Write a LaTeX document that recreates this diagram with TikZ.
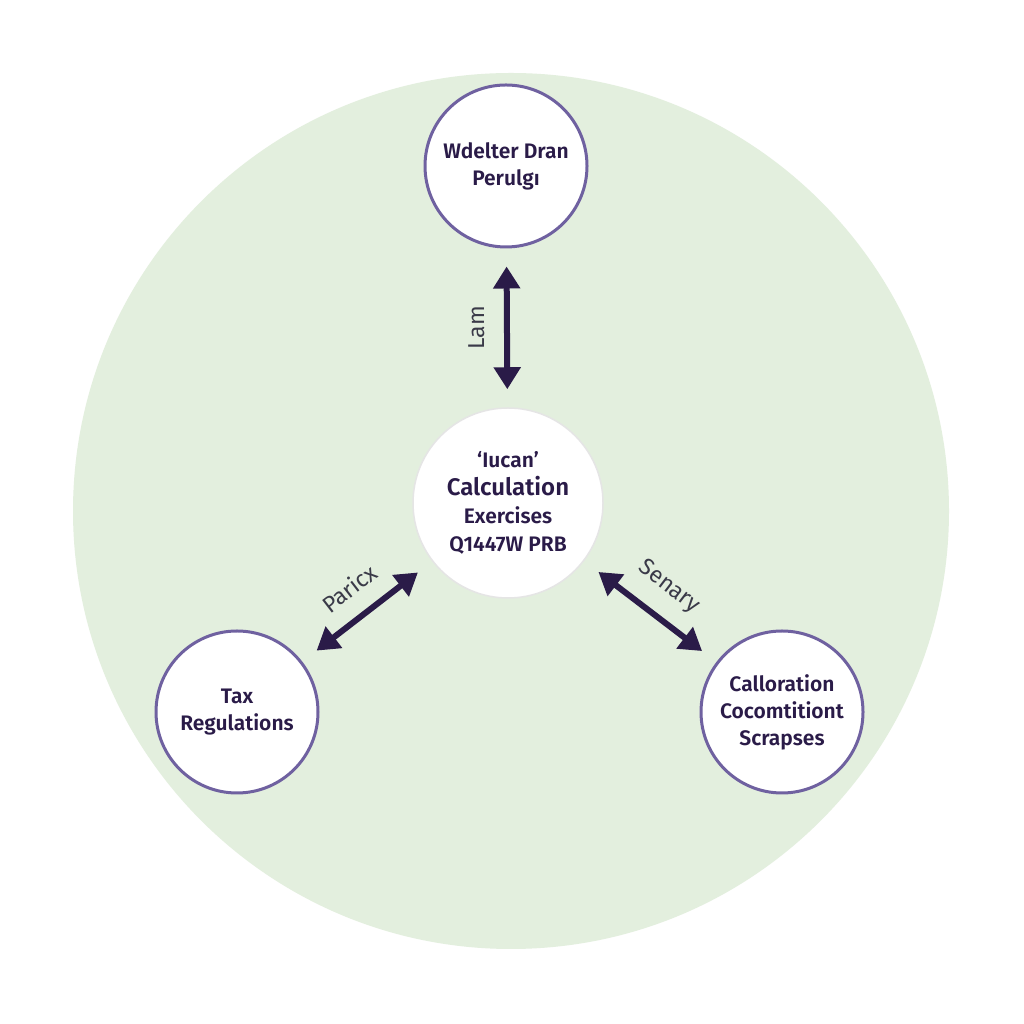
\documentclass[tikz,border=0pt]{standalone}
\usepackage{fontspec}
\setmainfont{Fira Sans}[BoldFont={Fira Sans SemiBold}]
\usepackage{tikz}
\usetikzlibrary{arrows.meta}

\definecolor{fondo}{HTML}{E3EFDE}
\definecolor{borde}{HTML}{6F61A0}
\definecolor{tinta}{HTML}{2A1B48}
\definecolor{gris}{HTML}{3A3A48}

\begin{document}
\begin{tikzpicture}[x=1pt,y=1pt,
    tema/.style={draw=borde, line width=3pt, fill=white, circle, minimum size=162pt,
      align=center, text=tinta, font=\fontsize{21}{27}\selectfont\bfseries},
    flecha/.style={{Triangle[width=26pt,length=22pt]}-{Triangle[width=26pt,length=22pt]},
      line width=6pt, draw=tinta, shorten <=18pt, shorten >=18pt},
    etiqueta/.style={text=gris, font=\fontsize{23}{26}\selectfont}]
          \useasboundingbox (0,0) rectangle (1024,1024);
          \fill[white] (0,0) rectangle (1024,1024);
          \fill[fondo] (511,513) circle (438);

          % Nodos
          \node[tema](arriba) at (506,858) {Wdelter Dran\\Perulgı};
          \node[tema, draw=gray!20, line width=1.5pt, minimum size=190pt,
            font=\fontsize{21}{28}\selectfont\bfseries](centro) at (508,521)
            {‘Iucan’\\{\fontsize{24}{30}\selectfont Calculation}\\Exercises\\Q1447W PRB};
          \node[tema](izq) at (237,312) {Tax\\Regulations};
          \node[tema](der) at (782,312) {Calloration\\Cocomtitiont\\Scrapses};

          % Aristas
          \draw[flecha] (centro) -- node[etiqueta, midway, xshift=-30pt, rotate=90] {Lam} (arriba);
          \draw[flecha] (izq) -- node[etiqueta, midway, above=14pt, sloped] {Paricx} (centro);
          \draw[flecha] (centro) -- node[etiqueta, midway, above=14pt, sloped] {Senary} (der);

        \end{tikzpicture}
\end{document}
